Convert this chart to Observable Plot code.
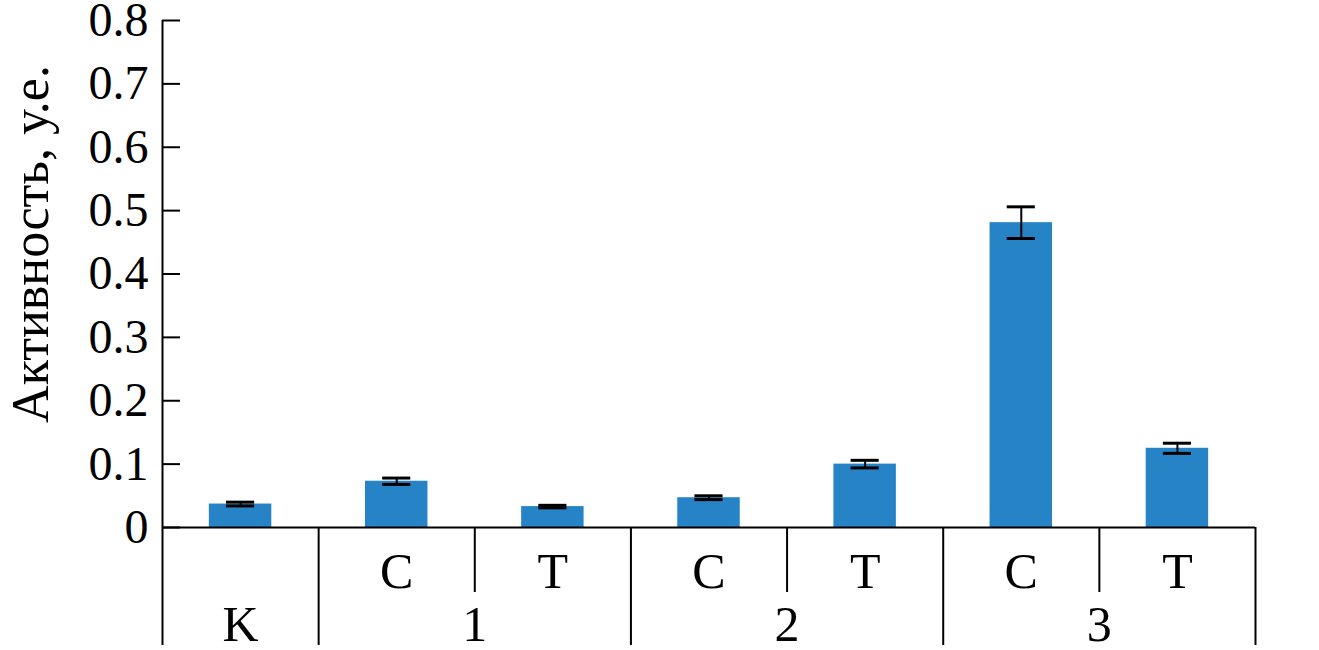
<!DOCTYPE html>
<html>
<head>
<meta charset="utf-8">
<script src="https://cdn.jsdelivr.net/npm/d3@7"></script>
<script src="https://cdn.jsdelivr.net/npm/@observablehq/plot@0.6"></script>
<style>
  html, body { margin: 0; padding: 0; background: #fff; }
  #chart { width: 1319px; height: 650px; }
</style>
</head>
<body>
<div id="chart"></div>
<script>
// ---- data ----
const categories = ["K", "1C", "1T", "2C", "2T", "3C", "3T"];
const subLabels  = ["",  "C",  "T",  "C",  "T",  "C",  "T"];
const values     = [0.037, 0.073, 0.033, 0.047, 0.100, 0.481, 0.125];
const errors     = [0.003, 0.005, 0.002, 0.003, 0.006, 0.025, 0.008];
const groupNames = ["K", "1", "2", "3"];
const groupMembers = [["K"], ["1C", "1T"], ["2C", "2T"], ["3C", "3T"]];
const yTicks     = [0, 0.1, 0.2, 0.3, 0.4, 0.5, 0.6, 0.7, 0.8];
const yLabel     = "Активность, у.е.";

// ---- derived tables ----
const bars = categories.map((c, i) => ({i, cat: c, value: values[i], err: errors[i], sub: subLabels[i]}));
const groups = groupNames.map((g, k) => {
  const idx = groupMembers[k].map(m => categories.indexOf(m));
  return {name: g, first: Math.min(...idx), last: Math.max(...idx)};
});
const fullSeps = groups.map(g => g.last + 0.5);
const shortSeps = [];
groups.forEach(g => { for (let i = g.first; i < g.last; i++) shortSeps.push(i + 0.5); });

const font = "'Liberation Serif', 'Times New Roman', serif";
const halfBar = 0.2;    // bar half-width in category units
const halfCap = 0.09;   // error cap half-width in category units

const chart = Plot.plot({
  width: 1319,
  height: 650,
  marginLeft: 162,
  marginRight: 64,
  marginTop: 20,
  marginBottom: 123,
  style: {fontFamily: font, fontSize: "48px", background: "#fff", color: "#000"},
  x: {type: "linear", domain: [-0.5, categories.length - 0.5], axis: null},
  y: {domain: [0, 0.8], axis: null},
  marks: [
    Plot.rectY(bars, {x1: d => d.i - halfBar, x2: d => d.i + halfBar, y: "value", fill: "#2683c6"}),
    // error bars
    Plot.ruleX(bars, {x: "i", y1: d => d.value - d.err, y2: d => d.value + d.err, stroke: "#000", strokeWidth: 2}),
    Plot.ruleY(bars, {y: d => d.value + d.err, x1: d => d.i - halfCap, x2: d => d.i + halfCap, stroke: "#000", strokeWidth: 3}),
    Plot.ruleY(bars, {y: d => d.value - d.err, x1: d => d.i - halfCap, x2: d => d.i + halfCap, stroke: "#000", strokeWidth: 3}),
    // baseline
    Plot.ruleY([0], {stroke: "#000", strokeWidth: 2}),
    // left axis line extended into the category table
    Plot.ruleX([-0.5], {y1: 0.8, y2: 0, insetBottom: -118, stroke: "#000", strokeWidth: 2}),
    // y ticks (inward)
    Plot.ruleY(yTicks, {y: d => d, x1: -0.5, x2: -0.5, insetRight: -18, stroke: "#000", strokeWidth: 2}),
    // y tick labels
    Plot.text(yTicks, {y: d => d, frameAnchor: "left", dx: -14, textAnchor: "end", lineAnchor: "middle",
      text: d => d === 0 ? "0" : d.toFixed(1), fontSize: 48, fill: "#000"}),
    // y label
    Plot.text([yLabel], {frameAnchor: "left", textAnchor: "middle", rotate: -90, dx: -131, dy: -30, text: d => d,
      fontSize: 52, fill: "#000", lineAnchor: "middle"}),
    // separators
    Plot.ruleX(fullSeps, {x: d => d, y1: 0, y2: 0, insetBottom: -118, stroke: "#000", strokeWidth: 2}),
    Plot.ruleX(shortSeps, {x: d => d, y1: 0, y2: 0, insetBottom: -65, stroke: "#000", strokeWidth: 2}),
    // sub labels
    Plot.text(bars, {x: "i", text: "sub", frameAnchor: "bottom", dy: 44, lineAnchor: "middle", fontSize: 50, fill: "#000"}),
    // group labels
    Plot.text(groups, {x: d => (d.first + d.last) / 2, text: "name", frameAnchor: "bottom", dy: 97, lineAnchor: "middle", fontSize: 50, fill: "#000"})
  ]
});
document.getElementById("chart").appendChild(chart);
</script>
</body>
</html>
